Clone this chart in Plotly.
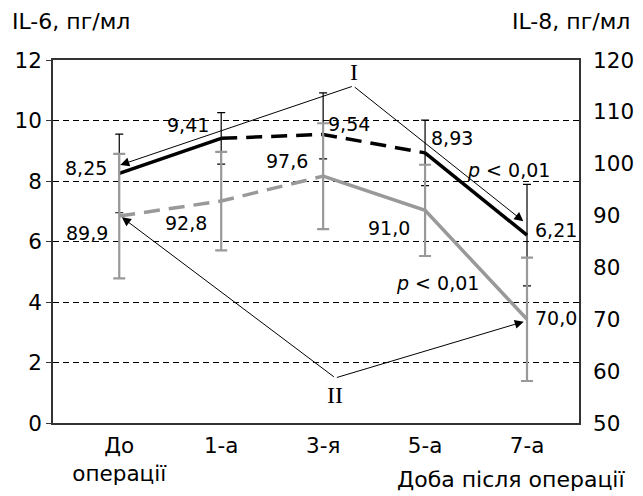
import plotly.graph_objects as go

# ---- data ----
days = ["До<br>операції", "1-а", "3-я", "5-а", "7-а"]
x_pos = [0, 1, 2, 3, 4]
il6 = [8.25, 9.41, 9.54, 8.93, 6.21]
il6_err_plus = [1.30, 0.85, 1.37, 1.08, 1.68]
il6_err_minus = [1.30, 0.85, 0.81, 1.08, 1.68]
il8 = [89.9, 92.8, 97.6, 91.0, 70.0]
il8_err = [12.0, 9.5, 10.2, 8.8, 11.9]
il6_labels = ["8,25", "9,41", "9,54", "8,93", "6,21"]
il8_labels = ["89,9", "92,8", "97,6", "91,0", "70,0"]
left_ticks = [0, 2, 4, 6, 8, 10, 12]
right_ticks = [50, 60, 70, 80, 90, 100, 110, 120]

FONT = "DejaVu Sans"
SERIF = "Liberation Serif"
BLACK = "#000000"
GRAY = "#999999"

fig = go.Figure()

# error bars (gray first, then black)
fig.add_trace(go.Scatter(
    x=x_pos, y=il8, yaxis="y2", mode="markers",
    marker=dict(size=1, color="rgba(0,0,0,0)"),
    error_y=dict(type="data", array=il8_err, color=GRAY, thickness=2.2, width=6),
    showlegend=False, hoverinfo="skip"))
fig.add_trace(go.Scatter(
    x=x_pos, y=il6, mode="markers",
    marker=dict(size=1, color="rgba(0,0,0,0)"),
    error_y=dict(type="data", array=il6_err_plus, arrayminus=il6_err_minus,
                 color=BLACK, thickness=1.2, width=4),
    showlegend=False, hoverinfo="skip"))

# IL-8 lines (gray): dashed then solid
fig.add_trace(go.Scatter(x=x_pos[0:3], y=il8[0:3], yaxis="y2", mode="lines",
                         line=dict(color=GRAY, width=3.5, dash="16px,9px"),
                         showlegend=False, hoverinfo="skip"))
fig.add_trace(go.Scatter(x=x_pos[2:5], y=il8[2:5], yaxis="y2", mode="lines",
                         line=dict(color=GRAY, width=3.5),
                         showlegend=False, hoverinfo="skip"))
# IL-6 lines (black): solid, dashed, solid
fig.add_trace(go.Scatter(x=x_pos[0:2], y=il6[0:2], mode="lines",
                         line=dict(color=BLACK, width=3.5),
                         showlegend=False, hoverinfo="skip"))
fig.add_trace(go.Scatter(x=x_pos[1:4], y=il6[1:4], mode="lines",
                         line=dict(color=BLACK, width=3.5, dash="16px,9px"),
                         showlegend=False, hoverinfo="skip"))
fig.add_trace(go.Scatter(x=x_pos[3:5], y=il6[3:5], mode="lines",
                         line=dict(color=BLACK, width=3.5),
                         showlegend=False, hoverinfo="skip"))

annotations = []
lab_font = dict(family=FONT, size=19, color=BLACK)
# IL-6 value labels: (xanchor, xshift, yshift)
il6_off = [("right", -10, 5), ("right", -10, 13), ("left", 3, 10),
           ("left", 4, 15), ("left", 6, 5)]
for xi, yi, t, (xa, xs, ys) in zip(x_pos, il6, il6_labels, il6_off):
    annotations.append(dict(x=xi, y=yi, xref="x", yref="y", text=t,
                            showarrow=False, xanchor=xa, yanchor="middle",
                            xshift=xs, yshift=ys, font=lab_font))
il8_off = [("right", -9, -17), ("right", -12, -22), ("right", -13, 15),
           ("right", -13, -18), ("left", 6, 1)]
for xi, yi, t, (xa, xs, ys) in zip(x_pos, il8, il8_labels, il8_off):
    annotations.append(dict(x=xi, y=yi, xref="x", yref="y2", text=t,
                            showarrow=False, xanchor=xa, yanchor="middle",
                            xshift=xs, yshift=ys, font=lab_font))

# p-value labels
for px, py in [(3.82, 8.36), (3.12, 4.63)]:
    annotations.append(dict(x=px, y=py, xref="x", yref="y",
                            text="<i>p</i> &lt; 0,01", showarrow=False,
                            font=lab_font, xanchor="center", yanchor="middle"))

# Roman numeral labels
annotations.append(dict(x=2.30, y=11.6, xref="x", yref="y", text="I",
                        showarrow=False, font=dict(family=SERIF, size=24, color=BLACK)))
annotations.append(dict(x=2.12, y=0.93, xref="x", yref="y", text="II",
                        showarrow=False, font=dict(family=SERIF, size=24, color=BLACK)))

# connector arrows: vertex -> tips
arrows = [
    ((2.296, 11.14), (0.01, 8.53)),
    ((2.296, 11.14), (3.964, 6.67)),
    ((2.12, 1.49), (0.026, 6.80)),
    ((2.12, 1.49), (3.968, 3.35)),
]
for (vx, vy), (tx, ty) in arrows:
    annotations.append(dict(x=tx, y=ty, xref="x", yref="y",
                            ax=vx, ay=vy, axref="x", ayref="y",
                            text="", showarrow=True, arrowhead=2,
                            arrowsize=1.8, arrowwidth=1, arrowcolor=BLACK,
                            standoff=0, startstandoff=0))

title_font = dict(family=FONT, size=22, color=BLACK)
annotations.append(dict(x=-0.082, y=1.105, xref="paper", yref="paper",
                        text="IL-6, пг/мл", showarrow=False, xanchor="left",
                        yanchor="middle", font=title_font))
annotations.append(dict(x=1.10, y=1.105, xref="paper", yref="paper",
                        text="IL-8, пг/мл", showarrow=False, xanchor="right",
                        yanchor="middle", font=title_font))
annotations.append(dict(x=1.0905, y=-0.157, xref="paper", yref="paper",
                        text="Доба після операції", showarrow=False,
                        xanchor="right", yanchor="middle", font=title_font))

tick_font = dict(family=FONT, size=21.5, color=BLACK)
fig.update_layout(
    width=635, height=488,
    margin=dict(l=45, r=64, t=52, b=73, autoexpand=False),
    paper_bgcolor="white", plot_bgcolor="white",
    showlegend=False,
    xaxis=dict(range=[-0.65, 4.51], tickvals=x_pos, ticktext=days,
               showgrid=False, zeroline=False, showline=True,
               linecolor="#333333", linewidth=1.5, mirror=True,
               ticks="", ticklabelstandoff=2, tickfont=tick_font,
               fixedrange=True, automargin=False),
    yaxis=dict(range=[0, 12], tickvals=left_ticks,
               showgrid=True, gridcolor="#000000", gridwidth=1,
               griddash="6px,4px", zeroline=False, showline=True,
               linecolor="#333333", linewidth=1.5,
               ticks="outside", ticklen=5, tickcolor="#333333",
               tickfont=tick_font, fixedrange=True, automargin=False),
    yaxis2=dict(range=[50, 120], tickvals=right_ticks, overlaying="y",
                side="right", showgrid=False, zeroline=False,
                showline=True, linecolor="#333333", linewidth=1.5,
                ticks="", ticklabelstandoff=8, tickfont=tick_font,
                fixedrange=True, automargin=False),
    annotations=annotations,
)

fig.write_html("out.html")
